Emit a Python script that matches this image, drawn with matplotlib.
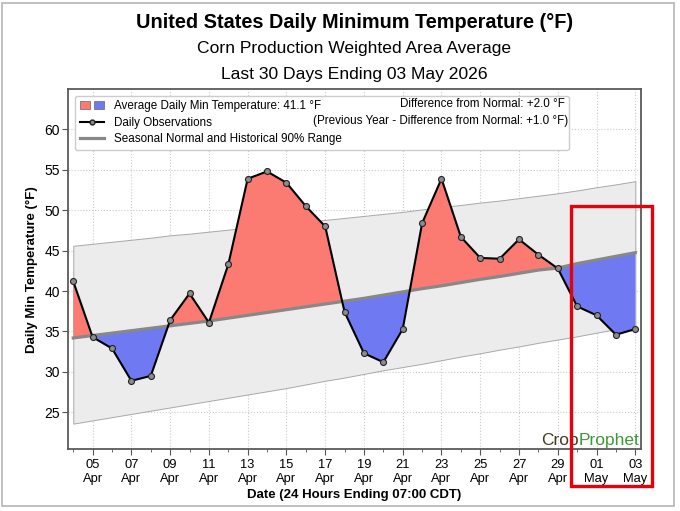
import numpy as np
import pandas as pd
import matplotlib
matplotlib.use("Agg")
import matplotlib.pyplot as plt
import matplotlib.dates as mdates
from matplotlib.patches import Patch, Rectangle
from matplotlib.lines import Line2D
from matplotlib.legend_handler import HandlerTuple

plt.rcParams["font.family"] = ["Liberation Sans", "DejaVu Sans"]

# 30 days ending 03 May 2026
dates = pd.date_range("2026-04-04", "2026-05-03", freq="D")

observed = [41.2, 34.3, 32.9, 28.9, 29.5, 36.4, 39.7, 36.1, 43.3, 53.9,
            54.8, 53.4, 50.5, 48.0, 37.4, 32.3, 31.2, 35.3, 48.4, 53.9,
            46.7, 44.1, 44.0, 46.4, 44.5, 42.8, 38.1, 37.0, 34.6, 35.3]

normal = [34.2, 34.5, 34.8, 35.1, 35.4, 35.7, 36.0, 36.3, 36.65, 37.0,
          37.35, 37.7, 38.05, 38.4, 38.75, 39.1, 39.5, 39.9, 40.3, 40.65,
          41.05, 41.45, 41.8, 42.2, 42.6, 42.85, 43.4, 43.85, 44.3, 44.75]

range_hi = [45.6, 45.85, 46.1, 46.35, 46.6, 46.9, 47.1, 47.35, 47.6, 47.85,
            48.1, 48.3, 48.55, 48.8, 49.05, 49.3, 49.55, 49.8, 50.1, 50.4,
            50.65, 50.95, 51.2, 51.5, 51.8, 52.1, 52.45, 52.85, 53.2, 53.6]

range_lo = [23.6, 24.0, 24.4, 24.8, 25.2, 25.6, 26.0, 26.4, 26.8, 27.2,
            27.6, 28.0, 28.45, 28.9, 29.3, 29.75, 30.2, 30.6, 31.0, 31.45,
            31.9, 32.3, 32.75, 33.15, 33.6, 34.0, 34.4, 34.85, 35.3, 35.7]

avg_label = "Average Daily Min Temperature: 41.1 °F"
diff_label = "Difference from Normal: +2.0 °F"
prev_label = "(Previous Year - Difference from Normal: +1.0 °F)"

RED = "#fb7b72"
BLUE = "#6f79f2"

fig = plt.figure(figsize=(6.8, 5.11), dpi=100)
ax = fig.add_axes([0.100, 0.1204, 0.8426, 0.7054])

obs = np.array(observed)
nrm = np.array(normal)

ax.fill_between(dates, range_lo, range_hi, facecolor="#ececec",
                edgecolor="#a8a8a8", linewidth=0.7, zorder=1)
ax.fill_between(dates, obs, nrm, where=obs >= nrm, interpolate=True,
                facecolor=RED, linewidth=0, zorder=2)
ax.fill_between(dates, obs, nrm, where=obs <= nrm, interpolate=True,
                facecolor=BLUE, linewidth=0, zorder=2)
ax.plot(dates, normal, color="#888888", linewidth=2.3, zorder=3)
ax.plot(dates, observed, color="black", linewidth=1.5, marker="o",
        markersize=4.3, markerfacecolor="#8c8c8c", markeredgecolor="#222222",
        markeredgewidth=0.8, zorder=4)

ax.set_xlim(dates[0] - pd.Timedelta(hours=6.5), dates[-1] + pd.Timedelta(hours=7))
ax.set_ylim(20.4, 65.0)
ax.set_yticks([25, 30, 35, 40, 45, 50, 55, 60])

ax.xaxis.set_major_locator(mdates.DayLocator(bymonthday=range(1, 32, 2)))
ax.xaxis.set_major_formatter(mdates.DateFormatter("%d\n%b"))
ax.xaxis.set_minor_locator(mdates.DayLocator())

ax.grid(True, which="major", color="#cbcbcb", linestyle=":", linewidth=0.8, zorder=0)
ax.set_axisbelow(True)
ax.tick_params(axis="x", which="major", labelsize=9.3, length=4, pad=3, color="#555555")
ax.tick_params(axis="x", which="minor", length=2, color="#555555")
ax.tick_params(axis="y", labelsize=10, length=4, pad=2, color="#555555")
for sp in ax.spines.values():
    sp.set_color("#5a5a5a")
    sp.set_linewidth(1.3)

ax.set_xlabel("Date (24 Hours Ending 07:00 CDT)", fontsize=9.5, fontweight="bold", labelpad=3)
ax.set_ylabel("Daily Min Temperature (°F)", fontsize=9.5, fontweight="bold", labelpad=4)

handles = [
    (Patch(facecolor=RED, edgecolor="#666666", linewidth=0.5),
     Patch(facecolor=BLUE, edgecolor="#666666", linewidth=0.5)),
    Line2D([], [], color="black", linewidth=1.5, marker="o", markersize=3.5,
           markerfacecolor="#8c8c8c", markeredgecolor="#222222"),
    Line2D([], [], color="#888888", linewidth=2.3),
]
labels = [avg_label, "Daily Observations", "Seasonal Normal and Historical 90% Range"]
leg = ax.legend(handles, labels, loc="upper left", mode="expand",
                bbox_to_anchor=(0.012, 0.5, 0.862, 0.482), borderaxespad=0,
                fontsize=8.4, handlelength=2.1, handletextpad=0.85,
                labelspacing=0.38, borderpad=0.42, framealpha=1,
                edgecolor="#cccccc", fancybox=True,
                handler_map={tuple: HandlerTuple(ndivide=None, pad=0.3)})
leg.set_zorder(6)

ax.text(0.867, 0.958, diff_label, transform=ax.transAxes, ha="right",
        va="center", fontsize=8.4, zorder=7)
ax.text(0.872, 0.911, prev_label, transform=ax.transAxes, ha="right",
        va="center", fontsize=8.4, zorder=7)

# logo
ax.text(0.892, 0.013, "Crop", transform=ax.transAxes, ha="right", va="baseline",
        fontsize=12.5, color="#4a3a22", zorder=7)
ax.text(0.892, 0.013, "Prophet", transform=ax.transAxes, ha="left", va="baseline",
        fontsize=12.5, color="#3f9a36", zorder=7)

cx = 0.100 + 0.8426 / 2
fig.text(cx, 1 - 22 / 511, "United States Daily Minimum Temperature (°F)",
         ha="center", va="center", fontsize=14.3, fontweight="bold")
fig.text(cx, 1 - 49 / 511, "Corn Production Weighted Area Average",
         ha="center", va="center", fontsize=12.6)
fig.text(cx, 1 - 74 / 511, "Last 30 Days Ending 03 May 2026",
         ha="center", va="center", fontsize=12.6)

# highlight box and outer frame
fig.patches.append(Rectangle((570.7 / 680, 25 / 511), 81.3 / 680, 280 / 511,
                             transform=fig.transFigure, fill=False,
                             edgecolor="#e8000b", linewidth=2.4, zorder=10))
fig.patches.append(Rectangle((2 / 680, 5 / 511), 672 / 680, 503 / 511,
                             transform=fig.transFigure, fill=False,
                             edgecolor="#b5b5b5", linewidth=1.2, zorder=10))

fig.savefig("out.png", dpi=100)
